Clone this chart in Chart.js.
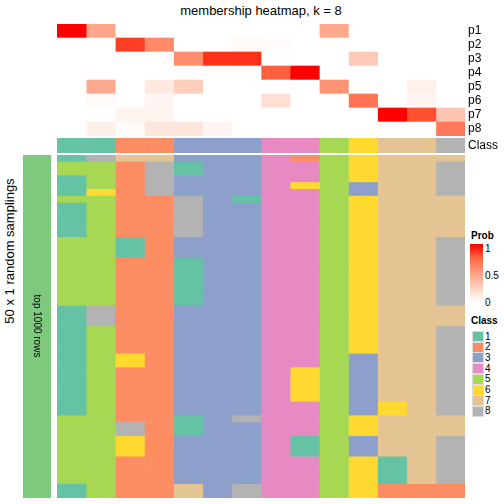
<!DOCTYPE html>
<html>
<head>
<meta charset="utf-8">
<script src="https://cdn.jsdelivr.net/npm/chart.js@4.4.1/dist/chart.umd.min.js"></script>
<style>
  body { margin: 0; background: #fff; }
  #wrap { position: relative; width: 504px; height: 504px; overflow: hidden;
          font-family: "Liberation Sans", Arial, Helvetica, sans-serif; color: #000; }
  .abs { position: absolute; }
  .rot { position: absolute; white-space: nowrap; transform-origin: center center; }
  .lab { position: absolute; font-size: 10px; line-height: 10px; }
  .lgTitle { position: absolute; font-size: 10px; font-weight: bold; line-height: 10px; }
  .sw { position: absolute; width: 10px; height: 9px; border: 0.5px solid #ddd; }
</style>
</head>
<body>
<div id="wrap">
  <div class="abs" id="title" style="left:0;width:522px;top:3px;text-align:center;font-size:13px;line-height:15px;">membership heatmap, k = 8</div>
  <div class="rot" style="left:-70px;top:243px;width:160px;text-align:center;font-size:13px;line-height:16px;transform:rotate(-90deg);">50 x 1 random samplings</div>

  <canvas class="abs" id="probChart" width="447" height="112" style="left:57px;top:24px"></canvas>
  <canvas class="abs" id="classChart" width="447" height="15" style="left:57px;top:138px"></canvas>
  <canvas class="abs" id="annoChart" width="28" height="343" style="left:23px;top:155px"></canvas>
  <canvas class="abs" id="sampleChart" width="408" height="343" style="left:57px;top:155px"></canvas>
  <div class="rot" style="left:-13px;top:320px;width:100px;text-align:center;font-size:10px;line-height:12px;transform:rotate(90deg);">top 1000 rows</div>

  <div id="legend"></div>
</div>

<script>
// ---- data ----
const probRows = ["p1", "p2", "p3", "p4", "p5", "p6", "p7", "p8"];
const columns = ["s1", "s2", "s3", "s4", "s5", "s6", "s7", "s8", "s9", "s10", "s11", "s12", "s13", "s14"];

// membership probability of each column (sample) in each class p1..p8
const p1 = [1.00, 0.46, 0, 0, 0, 0, 0, 0, 0, 0.45, 0, 0, 0, 0];
const p2 = [0, 0, 0.90, 0.60, 0, 0, 0.03, 0.02, 0, 0, 0, 0, 0, 0];
const p3 = [0, 0, 0, 0, 0.58, 0.93, 0.93, 0, 0, 0, 0.28, 0, 0, 0];
const p4 = [0, 0, 0, 0, 0, 0, 0, 0.78, 1.00, 0, 0, 0, 0, 0];
const p5 = [0, 0.44, 0, 0.12, 0.26, 0, 0, 0, 0, 0.55, 0, 0, 0.08, 0];
const p6 = [0, 0.03, 0, 0.05, 0, 0, 0, 0.17, 0, 0, 0.70, 0, 0.05, 0];
const p7 = [0, 0, 0.06, 0.06, 0, 0, 0, 0, 0, 0, 0, 1.00, 0.84, 0.31];
const p8 = [0, 0.08, 0.02, 0.13, 0.13, 0.05, 0, 0, 0, 0, 0, 0, 0, 0.68];
const probs = [p1, p2, p3, p4, p5, p6, p7, p8];

const classOfColumn = [1, 1, 2, 2, 3, 3, 3, 4, 4, 5, 6, 7, 7, 8];

// class assigned in each of the 50 random samplings (rows) for every column
const samplings = [
  [1, 8, 7, 7, 3, 3, 3, 4, 2, 5, 6, 7, 7, 7],
  [5, 5, 2, 8, 1, 3, 3, 4, 4, 5, 6, 7, 7, 8],
  [5, 5, 2, 8, 1, 3, 3, 4, 4, 5, 6, 7, 7, 8],
  [1, 5, 2, 8, 3, 3, 3, 4, 4, 5, 6, 7, 7, 8],
  [1, 5, 2, 8, 3, 3, 3, 4, 6, 5, 3, 7, 7, 8],
  [1, 6, 2, 8, 3, 3, 3, 4, 4, 5, 3, 7, 7, 8],
  [5, 5, 2, 2, 8, 3, 1, 4, 4, 5, 6, 7, 7, 7],
  [1, 5, 2, 2, 8, 3, 3, 4, 4, 5, 6, 7, 7, 7],
  [1, 5, 2, 2, 8, 3, 3, 4, 4, 5, 6, 7, 7, 7],
  [1, 5, 2, 2, 8, 3, 3, 4, 4, 5, 6, 7, 7, 7],
  [1, 5, 2, 2, 8, 3, 3, 4, 4, 5, 6, 7, 7, 7],
  [1, 5, 2, 2, 8, 3, 3, 4, 4, 5, 6, 7, 7, 7],
  [5, 5, 1, 2, 3, 3, 3, 4, 4, 5, 6, 7, 7, 8],
  [5, 5, 1, 2, 3, 3, 3, 4, 4, 5, 6, 7, 7, 8],
  [5, 5, 1, 2, 3, 3, 3, 4, 4, 5, 6, 7, 7, 8],
  [5, 5, 2, 2, 1, 3, 3, 4, 4, 5, 6, 7, 7, 8],
  [5, 5, 2, 2, 1, 3, 3, 4, 4, 5, 6, 7, 7, 8],
  [5, 5, 2, 2, 1, 3, 3, 4, 4, 5, 6, 7, 7, 8],
  [5, 5, 2, 2, 1, 3, 3, 4, 4, 5, 6, 7, 7, 8],
  [5, 5, 2, 2, 1, 3, 3, 4, 4, 5, 6, 7, 7, 8],
  [5, 5, 2, 2, 1, 3, 3, 4, 4, 5, 6, 7, 7, 8],
  [5, 5, 2, 2, 1, 3, 3, 4, 4, 5, 6, 7, 7, 8],
  [1, 8, 2, 2, 3, 3, 3, 4, 4, 5, 6, 7, 7, 7],
  [1, 8, 2, 2, 3, 3, 3, 4, 4, 5, 6, 7, 7, 7],
  [1, 8, 2, 2, 3, 3, 3, 4, 4, 5, 6, 7, 7, 7],
  [1, 5, 2, 2, 3, 3, 3, 4, 4, 5, 6, 7, 7, 8],
  [1, 5, 2, 2, 3, 3, 3, 4, 4, 5, 6, 7, 7, 8],
  [1, 5, 2, 2, 3, 3, 3, 4, 4, 5, 6, 7, 7, 8],
  [1, 5, 2, 2, 3, 3, 3, 4, 4, 5, 6, 7, 7, 8],
  [1, 5, 6, 2, 3, 3, 3, 4, 4, 5, 3, 7, 7, 8],
  [1, 5, 6, 2, 3, 3, 3, 4, 4, 5, 3, 7, 7, 8],
  [1, 5, 2, 2, 3, 3, 3, 4, 6, 5, 3, 7, 7, 8],
  [1, 5, 2, 2, 3, 3, 3, 4, 6, 5, 3, 7, 7, 8],
  [1, 5, 2, 2, 3, 3, 3, 4, 6, 5, 3, 7, 7, 8],
  [1, 5, 2, 2, 3, 3, 3, 4, 6, 5, 3, 7, 7, 8],
  [1, 5, 2, 2, 3, 3, 3, 4, 6, 5, 3, 7, 7, 8],
  [1, 5, 2, 2, 3, 3, 3, 4, 4, 5, 3, 6, 7, 8],
  [1, 5, 2, 2, 3, 3, 3, 4, 4, 5, 3, 6, 7, 8],
  [5, 5, 2, 2, 1, 3, 8, 4, 4, 5, 6, 7, 7, 7],
  [5, 5, 8, 2, 1, 3, 3, 4, 4, 5, 6, 7, 7, 7],
  [5, 5, 8, 2, 1, 3, 3, 4, 4, 5, 6, 7, 7, 7],
  [5, 5, 6, 2, 3, 3, 3, 4, 1, 5, 3, 7, 7, 8],
  [5, 5, 6, 2, 3, 3, 3, 4, 1, 5, 3, 7, 7, 8],
  [5, 5, 6, 2, 3, 3, 3, 4, 1, 5, 3, 7, 7, 8],
  [5, 5, 2, 2, 3, 3, 3, 4, 4, 5, 6, 1, 7, 8],
  [5, 5, 2, 2, 3, 3, 3, 4, 4, 5, 6, 1, 7, 8],
  [5, 5, 2, 2, 3, 3, 3, 4, 4, 5, 6, 1, 7, 8],
  [5, 5, 2, 2, 3, 3, 3, 4, 4, 5, 6, 1, 7, 8],
  [1, 5, 2, 2, 7, 3, 8, 4, 4, 5, 6, 2, 2, 2],
  [1, 5, 2, 2, 7, 3, 8, 4, 4, 5, 6, 2, 2, 2],
];

const classLabels = ["1", "2", "3", "4", "5", "6", "7", "8"];
const classColors = ["#66C2A5", "#FC8D62", "#8DA0CB", "#E78AC3", "#A6D854", "#FFD92F", "#E5C494", "#B3B3B3"];
const probTicks = [1, 0.5, 0];
const annoLabel = "top 1000 rows";

const FONT = "'Liberation Sans', Arial, Helvetica, sans-serif";

// white -> red interpolated in LAB, like colorRamp2(c(0, 1), c("white", "red"))
function probColor(v) {
    const L = 100 + (53.24 - 100) * v;
    const A = 80.09 * v;
    const B = 67.20 * v;
    const fy = (L + 16) / 116, fx = fy + A / 500, fz = fy - B / 200;
    const inv = (t) => (t > 6 / 29 ? t * t * t : 3 * (6 / 29) * (6 / 29) * (t - 4 / 29));
    const X = 0.95047 * inv(fx), Y = inv(fy), Z = 1.08883 * inv(fz);
    const lin = [
        3.2406 * X - 1.5372 * Y - 0.4986 * Z,
        -0.9689 * X + 1.8758 * Y + 0.0415 * Z,
        0.0557 * X - 0.204 * Y + 1.057 * Z,
    ];
    const out = lin.map((c) => {
        const s = c <= 0.0031308 ? 12.92 * c : 1.055 * Math.pow(c, 1 / 2.4) - 0.055;
        return Math.round(Math.max(0, Math.min(1, s)) * 255);
    });
    return `rgb(${out[0]},${out[1]},${out[2]})`;
}

const colorOfClass = (k) => classColors[k - 1];

// One stacked horizontal bar per heatmap row; each column is a dataset of unit width.
function heatmap(canvasId, rowLabels, cellColor, showLabels) {
    new Chart(document.getElementById(canvasId), {
        type: "bar",
        data: {
            labels: rowLabels,
            datasets: columns.map((col, j) => ({
                label: col,
                data: rowLabels.map(() => 1),
                backgroundColor: rowLabels.map((_, i) => cellColor(i, j)),
                borderWidth: 0,
                barPercentage: 1,
                categoryPercentage: 1,
            })),
        },
        options: {
            indexAxis: "y",
            responsive: false,
            animation: false,
            layout: { padding: 0 },
            plugins: { legend: { display: false }, tooltip: { enabled: false } },
            scales: {
                x: { stacked: true, display: false, min: 0, max: columns.length },
                y: {
                    stacked: true,
                    display: showLabels,
                    position: "right",
                    grid: { display: false, drawTicks: false },
                    border: { display: false },
                    ticks: { color: "#000", padding: 3, autoSkip: false, font: { family: FONT, size: 12 } },
                    afterFit(scale) {
                        // labels sit beside the cells; keep the cell area full height
                        scale.width = showLabels ? 39 : 0;
                        scale.paddingTop = 0;
                        scale.paddingBottom = 0;
                    },
                },
            },
        },
    });
}

heatmap("probChart", probRows, (i, j) => probColor(probs[i][j]), true);
heatmap("classChart", ["Class"], (i, j) => colorOfClass(classOfColumn[j]), true);
heatmap("sampleChart", samplings.map((_, i) => "r" + (i + 1)), (i, j) => colorOfClass(samplings[i][j]), false);

// left row annotation: a single bar
new Chart(document.getElementById("annoChart"), {
    type: "bar",
    data: {
        labels: [annoLabel],
        datasets: [{ data: [1], backgroundColor: "#7FC97F", borderWidth: 0, barPercentage: 1, categoryPercentage: 1 }],
    },
    options: {
        responsive: false,
        animation: false,
        layout: { padding: 0 },
        plugins: { legend: { display: false }, tooltip: { enabled: false } },
        scales: { x: { display: false }, y: { display: false, min: 0, max: 1 } },
    },
});

// legends
const legend = document.getElementById("legend");
let html = '<div class="lgTitle" style="left:471px;top:231px">Prob</div>';
const stops = [1, 0.75, 0.5, 0.25, 0].map((v, i) => `${probColor(v)} ${i * 25}%`).join(",");
html += `<div class="abs" style="left:470px;top:244px;width:13px;height:58px;background:linear-gradient(to bottom,${stops})"></div>`;
probTicks.forEach((t) => {
    const y = 303 - t * 54;
    html += `<div class="lab" style="left:485px;top:${y - 5}px">${t}</div>`;
});
html += '<div class="lgTitle" style="left:471px;top:316px">Class</div>';
classLabels.forEach((lab, i) => {
    const y = 331 + i * 10.7;
    html += `<div class="sw" style="left:472px;top:${y}px;background:${classColors[i]}"></div>`;
    html += `<div class="lab" style="left:485px;top:${y + 0.5}px">${lab}</div>`;
});
legend.innerHTML = html;
</script>
</body>
</html>
